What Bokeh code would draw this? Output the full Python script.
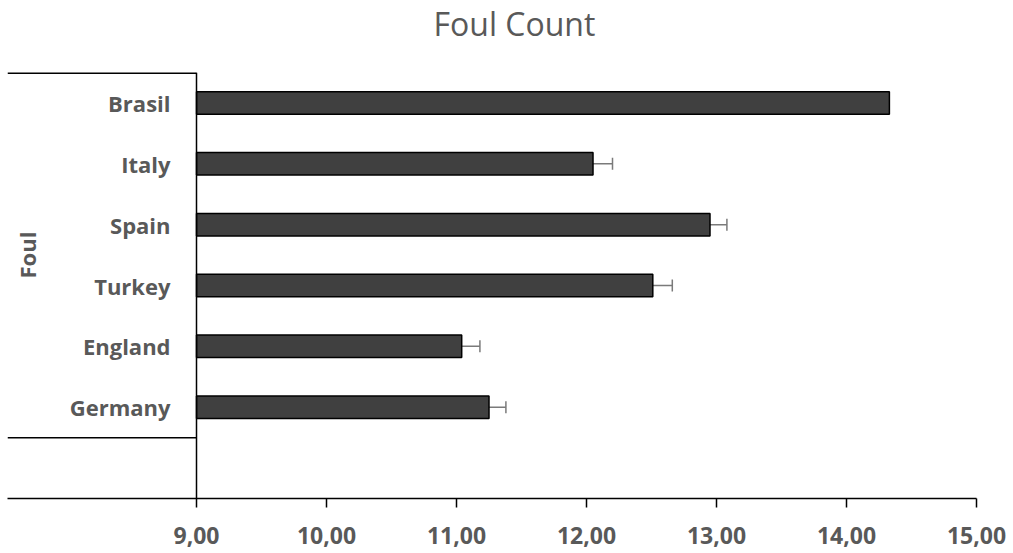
import math
from bokeh.plotting import figure
from bokeh.models import (Range1d, FactorRange, ColumnDataSource, Whisker, TeeHead,
                          FixedTicker, Label, Title)
from bokeh.embed import file_html
from bokeh.resources import INLINE

# ---- data ----
countries = ["Brasil", "Italy", "Spain", "Turkey", "England", "Germany"]
fouls = [14.33, 12.05, 12.95, 12.51, 11.04, 11.25]
errors = [0.0, 0.15, 0.13, 0.15, 0.14, 0.13]
x_ticks = [9, 10, 11, 12, 13, 14, 15]
x_tick_labels = ["9,00", "10,00", "11,00", "12,00", "13,00", "14,00", "15,00"]
title_text = "Foul Count"
group_label = "Foul"

# ---- layout constants ----
X_MIN, X_MAX = 7.546, 15.0
BASE = 9.0
GREY = "#595959"
FONT = "Open Sans"

factors = [" "] + countries[::-1]
n_slots = len(factors)

p = figure(width=1013, height=553, output_backend="svg", toolbar_location=None,
           x_range=Range1d(X_MIN, X_MAX), y_range=FactorRange(factors=factors),
           min_border_left=7, min_border_right=37, min_border_top=72, min_border_bottom=55)

p.outline_line_color = None
p.xgrid.visible = False
p.ygrid.visible = False
p.background_fill_color = "white"
p.border_fill_color = "white"

# blank spacer panel between the title and the plot area
p.add_layout(Title(text=" ", text_font_size="1px", standoff=23), "above")

# title (outermost panel above the plot)
p.add_layout(Title(text=title_text, text_font=FONT, text_font_size="32px",
                   text_font_style="normal", text_color=GREY, align="left",
                   vertical_align="top", offset=426, standoff=0), "above")

# x axis
xa = p.below[0]
xa.ticker = FixedTicker(ticks=x_ticks)
xa.major_label_overrides = {t: l for t, l in zip(x_ticks, x_tick_labels)}
xa.axis_line_color = "black"
xa.axis_line_width = 1.5
xa.major_tick_line_color = "black"
xa.major_tick_line_width = 1.5
xa.major_tick_out = 9
xa.major_tick_in = 0
xa.minor_tick_line_color = None
xa.major_label_text_font = FONT
xa.major_label_text_font_style = "bold"
xa.major_label_text_font_size = "23px"
xa.major_label_text_color = GREY
xa.major_label_standoff = 19

# y axis (category axis at x = 9)
ya = p.left[0]
ya.fixed_location = BASE
ya.axis_line_color = "black"
ya.axis_line_width = 1.5
ya.major_tick_line_color = None
ya.major_tick_out = 0
ya.major_tick_in = 0
ya.minor_tick_line_color = None
ya.major_label_text_font = FONT
ya.major_label_text_font_style = "bold"
ya.major_label_text_font_size = "22px"
ya.major_label_text_color = GREY
ya.major_label_standoff = 26

# bars
src = ColumnDataSource(dict(country=countries, foul=fouls, err=errors))
p.hbar(y="country", left=BASE, right="foul", height=0.37, source=src,
       fill_color="#404040", line_color="black", line_width=1.5)

# error bars (plus side only, none where error is zero)
idx = [i for i, e in enumerate(errors) if e > 0]
esrc = ColumnDataSource(dict(country=[countries[i] for i in idx],
                             lower=[fouls[i] for i in idx],
                             upper=[fouls[i] + errors[i] for i in idx]))
p.add_layout(Whisker(base="country", lower="lower", upper="upper", source=esrc,
                     dimension="width", line_color="#7a7a7a", line_width=1.5,
                     lower_head=None,
                     upper_head=TeeHead(size=12, line_color="#7a7a7a", line_width=1.5)))

# group separators of the category axis
p.segment(x0=[X_MIN, X_MIN], x1=[BASE, BASE],
          y0=[(countries[0], 0.5), (countries[-1], -0.5)],
          y1=[(countries[0], 0.5), (countries[-1], -0.5)],
          line_color="black", line_width=[3, 1.5])

# outer-level category label, centred on its group
group_center = (n_slots + 1) / 2.0
p.add_layout(Label(x=X_MIN, y=group_center, x_offset=19, text=group_label, angle=math.pi / 2,
                   text_align="center", text_baseline="middle", text_font=FONT,
                   text_font_style="bold", text_font_size="22px", text_color=GREY))

open("out.html", "w").write(file_html(p, INLINE))
